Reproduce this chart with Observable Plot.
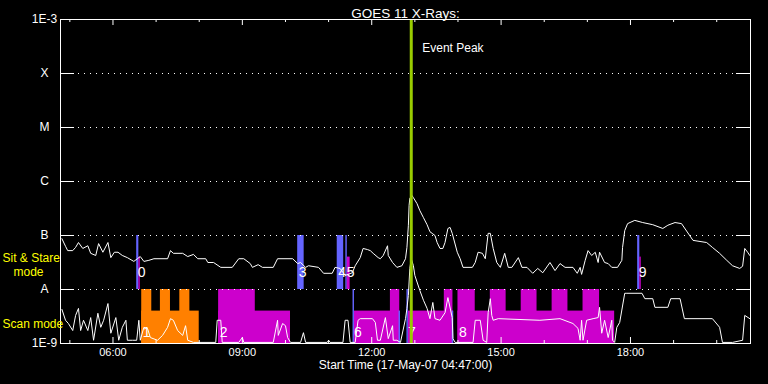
<!DOCTYPE html>
<html>
<head>
<meta charset="utf-8">
<script src="https://cdn.jsdelivr.net/npm/d3@7"></script>
<script src="https://cdn.jsdelivr.net/npm/@observablehq/plot@0.6"></script>
<style>
  html, body { margin: 0; padding: 0; background: #000; }
</style>
</head>
<body>
<div id="chart"></div>
<script>
// ---- Data (times UT on 17-May-2007, values = log10 flux W/m^2) ----
const day = "2007-05-17";
const startTime = "04:47";
const endTime = "20:47";
const peakTime = "12:55";

const longChannel = [
  ["04:49",-7.06],["04:54",-7.20],["04:57",-7.28],["05:04",-7.28],["05:08",-7.22],["05:12",-7.13],
  ["05:18",-7.24],["05:25",-7.19],["05:29",-7.33],["05:36",-7.37],["05:40",-7.15],["05:46",-7.31],
  ["05:53",-7.13],["05:57",-7.41],["06:02",-7.31],["06:07",-7.31],["06:13",-7.37],["06:20",-7.41],
  ["06:29",-7.48],["06:34",-7.43],["06:38",-7.39],["06:43",-7.48],["06:50",-7.46],["06:57",-7.43],
  ["07:16",-7.43],["07:20",-7.28],["07:24",-7.33],["07:37",-7.33],["07:44",-7.39],["07:52",-7.35],
  ["07:58",-7.43],["08:09",-7.43],["08:12",-7.50],["08:20",-7.50],["08:30",-7.59],["08:46",-7.59],
  ["08:55",-7.43],["09:02",-7.43],["09:11",-7.52],["09:14",-7.59],["09:22",-7.54],["09:28",-7.59],
  ["09:43",-7.59],["09:49",-7.43],["10:10",-7.43],["10:17",-7.52],["10:21",-7.50],["10:28",-7.59],
  ["10:32",-7.56],["10:46",-7.59],["10:53",-7.70],["11:05",-7.70],["11:09",-7.59],["11:16",-7.61],
  ["11:23",-7.74],["11:33",-7.69],["11:37",-7.56],["11:44",-7.41],["11:48",-7.24],["11:54",-7.26],
  ["11:58",-7.28],["12:02",-7.33],["12:09",-7.41],["12:12",-7.43],["12:16",-7.37],["12:22",-7.19],
  ["12:23",-7.37],["12:29",-7.50],["12:35",-7.59],["12:42",-7.56],["12:47",-7.43],["12:49",-7.22],
  ["12:51",-6.81],["12:52",-6.44],["12:53",-6.31],["12:56",-6.26],["12:58",-6.30],["13:03",-6.41],
  ["13:07",-6.54],["13:12",-6.67],["13:17",-6.80],["13:21",-6.93],["13:24",-6.96],["13:28",-7.00],
  ["13:31",-7.13],["13:35",-7.24],["13:39",-7.24],["13:42",-7.13],["13:46",-6.87],["13:49",-6.85],
  ["13:52",-6.96],["13:59",-7.31],["14:03",-7.43],["14:07",-7.59],["14:20",-7.59],["14:24",-7.50],
  ["14:28",-7.31],["14:34",-7.33],["14:38",-7.43],["14:42",-6.96],["14:45",-6.96],["14:49",-7.24],
  ["14:54",-7.50],["14:59",-7.59],["15:05",-7.33],["15:10",-7.59],["15:15",-7.59],["15:24",-7.41],
  ["15:29",-7.59],["15:36",-7.59],["15:44",-7.70],["15:51",-7.61],["15:58",-7.69],["16:08",-7.50],
  ["16:15",-7.65],["16:22",-7.52],["16:29",-7.59],["16:40",-7.59],["16:46",-7.70],["16:50",-7.59],
  ["16:52",-7.72],["16:57",-7.46],["17:01",-7.28],["17:06",-7.37],["17:11",-7.31],["17:15",-7.50],
  ["17:17",-7.31],["17:24",-7.50],["17:29",-7.52],["17:34",-7.59],["17:42",-7.59],["17:48",-7.46],
  ["17:49",-7.22],["17:52",-6.91],["17:56",-6.78],["18:06",-6.72],["18:17",-6.76],["18:31",-6.80],
  ["18:45",-6.87],["18:52",-6.81],["19:02",-6.76],["19:11",-6.78],["19:27",-7.09],["19:46",-7.13],
  ["19:54",-7.22],["20:04",-7.33],["20:14",-7.46],["20:22",-7.56],["20:32",-7.61],["20:36",-7.57],
  ["20:39",-7.24],["20:43",-7.31],["20:46",-7.37]
];

const shortChannel = [
  ["04:49",-8.37],["04:54",-8.57],["04:58",-8.63],["05:04",-8.76],["05:08",-8.48],["05:12",-8.35],
  ["05:15",-8.76],["05:19",-8.57],["05:25",-8.76],["05:29",-8.52],["05:33",-8.94],["05:39",-8.44],
  ["05:43",-8.70],["05:47",-8.57],["05:53",-8.26],["05:57",-8.81],["06:04",-8.52],["06:08",-8.94],
  ["06:13",-8.70],["06:18",-8.57],["06:20",-8.94],["06:27",-8.94],["06:33",-8.94],["06:36",-8.57],
  ["06:38",-8.94],["06:43",-8.70],["06:48",-8.72],["06:52",-8.89],["07:02",-8.94],["07:09",-8.85],
  ["07:16",-8.70],["07:20",-8.54],["07:24",-8.57],["07:30",-8.76],["07:37",-8.85],["07:41",-8.67],
  ["07:44",-8.94],["07:52",-8.98],["08:23",-8.98],["08:25",-8.57],["08:30",-8.57],["08:32",-8.98],
  ["08:55",-8.98],["09:00",-8.89],["09:02",-8.98],["09:43",-8.98],["09:49",-8.57],["09:50",-8.85],
  ["09:56",-8.63],["10:00",-8.67],["10:03",-8.89],["10:07",-8.98],["10:21",-8.98],["10:25",-8.80],
  ["10:28",-8.98],["10:58",-8.98],["11:00",-8.94],["11:02",-8.98],["11:20",-8.98],["11:23",-8.57],
  ["11:27",-8.57],["11:30",-8.98],["11:37",-8.98],["11:41",-8.57],["11:44",-8.54],["12:01",-8.54],
  ["12:05",-8.61],["12:08",-8.94],["12:12",-8.94],["12:19",-8.52],["12:23",-8.91],["12:29",-8.67],
  ["12:30",-8.94],["12:35",-8.94],["12:40",-8.98],["12:47",-8.54],["12:49",-8.35],["12:51",-8.11],
  ["12:53",-7.61],["12:55",-7.43],["12:58",-7.56],["13:00",-7.74],["13:07",-8.02],["13:12",-8.20],
  ["13:17",-8.35],["13:21",-8.54],["13:25",-8.24],["13:28",-8.54],["13:35",-8.57],["13:42",-8.43],
  ["13:46",-8.15],["13:52",-8.52],["13:53",-8.91],["13:56",-8.98],["14:21",-8.98],["14:24",-8.57],
  ["14:31",-8.57],["14:35",-8.94],["14:40",-8.98],["14:42",-8.43],["14:45",-8.17],["14:47",-8.48],
  ["14:49",-8.57],["14:56",-8.54],["15:54",-8.57],["16:22",-8.54],["16:40",-8.63],["16:47",-8.72],
  ["16:50",-8.94],["16:52",-8.57],["16:54",-8.94],["16:59",-8.57],["17:08",-8.54],["17:15",-8.52],
  ["17:17",-8.33],["17:20",-8.81],["17:24",-8.57],["17:29",-8.89],["17:34",-8.57],["17:35",-8.94],
  ["17:38",-8.98],["17:41",-8.70],["17:45",-8.61],["17:52",-8.07],["17:55",-8.07],["18:16",-8.07],
  ["18:20",-8.17],["18:31",-8.17],["18:34",-8.33],["18:52",-8.33],["18:56",-8.17],["19:09",-8.17],
  ["19:15",-8.54],["19:54",-8.54],["20:04",-8.70],["20:08",-8.98],["20:22",-8.98],["20:36",-8.94],
  ["20:39",-8.48],["20:46",-8.54]
];

// Observation mode bars [start, end]
const sitStareBlue = [["06:33","06:36"],["10:17","10:26"],["11:12","11:21"],["11:24","11:26"],["18:10","18:13"]];
const sitStareMagenta = [["06:36","06:38"],["11:26","11:30"],["18:13","18:15"]];
const scanOrangeLow = [["06:40","08:00"]];
const scanOrangeHigh = [["06:40","06:54"],["07:06","07:20"],["07:33","07:47"]];
const scanMagentaLow = [["08:27","10:07"],["11:36","12:39"],["12:51","13:54"],["14:00","17:38"]];
const scanMagentaHigh = [["08:27","09:18"],["12:26","12:39"],["13:41","13:53"],["14:00","14:24"],
  ["14:45","15:07"],["15:28","15:50"],["16:11","16:33"],["16:54","17:17"]];
const scanBlueHigh = [["11:34","11:36"],["12:49","12:51"]];
const scanBlueLow = [["12:38","12:40"],["13:52","13:54"]];

// Band levels (log10 flux)
const sitBand = [-8, -7, -7.4];   // bottom, full top, partial top
const scanBand = [-9, -8, -8.4];

// Event number labels [number, start]
const sitLabels = [["0","06:33"],["3","10:17"],["4","11:12"],["5","11:24"],["9","18:10"]];
const scanLabels = [["1","06:40"],["2","08:27"],["6","11:34"],["7","12:49"],["8","14:00"]];

// Axes
const yTickExp = [-9, -8, -7, -6, -5, -4, -3];
const yTickText = ["1E-9", "A", "B", "C", "M", "X", "1E-3"];
const gridExp = [-8, -7, -6, -5, -4];
const hourTicks = ["05:00","06:00","07:00","08:00","09:00","10:00","11:00","12:00","13:00","14:00","15:00","16:00","17:00","18:00","19:00","20:00"];
const majorTicks = ["06:00","09:00","12:00","15:00","18:00"];

const titleText = "GOES 11 X-Rays:";
const xTitle = "Start Time (17-May-07 04:47:00)";
const peakText = "Event Peak";

// ---- Helpers ----
const T = s => new Date(`${day}T${s}:00Z`);
const F = e => Math.pow(10, e);
const series = arr => arr.map(([t, e]) => ({t: T(t), v: F(e)}));
const rects = (arr, lo, hi) => arr.map(([a, b]) => ({x1: T(a), x2: T(b), y1: F(lo), y2: F(hi)}));

const W = 768, H = 384, mL = 60, mR = 18, mT = 19, mB = 41;
const innerW = W - mL - mR, innerH = H - mT - mB;
const minorTicks = hourTicks.filter(h => !majorTicks.includes(h));

const BLUE = "#6464ff", MAGENTA = "#cc00cc", ORANGE = "#ff8000", GREEN = "#99cc00", YELLOW = "#ffff00";
const FONT = "Liberation Sans";

const rectOpts = fill => ({x1: "x1", x2: "x2", y1: "y1", y2: "y2", fill});

const chart = Plot.plot({
  width: W, height: H,
  marginLeft: mL, marginRight: mR, marginTop: mT, marginBottom: mB,
  style: {background: "#000", color: "#fff", fontFamily: FONT, overflow: "visible"},
  x: {type: "utc", domain: [T(startTime), T(endTime)], axis: null},
  y: {type: "log", domain: [1e-9, 1e-3], axis: null},
  marks: [
    // mode bars
    Plot.rect(rects(sitStareBlue, sitBand[0], sitBand[1]), rectOpts(BLUE)),
    Plot.rect(rects(sitStareMagenta, sitBand[0], sitBand[2]), rectOpts(MAGENTA)),
    Plot.rect(rects(scanOrangeLow, scanBand[0], scanBand[2]), rectOpts(ORANGE)),
    Plot.rect(rects(scanOrangeHigh, scanBand[0], scanBand[1]), rectOpts(ORANGE)),
    Plot.rect(rects(scanMagentaLow, scanBand[0], scanBand[2]), rectOpts(MAGENTA)),
    Plot.rect(rects(scanMagentaHigh, scanBand[0], scanBand[1]), rectOpts(MAGENTA)),
    Plot.rect(rects(scanBlueHigh, scanBand[0], scanBand[1]), rectOpts(BLUE)),
    Plot.rect(rects(scanBlueLow, scanBand[0], scanBand[2]), rectOpts(BLUE)),
    // dotted grid
    Plot.ruleY(gridExp.map(F), {stroke: "#fff", strokeDasharray: "1,5"}),
    // y ticks (inward, both sides)
    Plot.ruleY(gridExp.map(F), {stroke: "#fff", insetRight: innerW - 14}),
    Plot.ruleY(gridExp.map(F), {stroke: "#fff", insetLeft: innerW - 14}),
    // x ticks (inward, top and bottom)
    Plot.ruleX(majorTicks.map(T), {stroke: "#fff", insetBottom: innerH - 6}),
    Plot.ruleX(minorTicks.map(T), {stroke: "#fff", insetBottom: innerH - 3}),
    Plot.ruleX(majorTicks.map(T), {stroke: "#fff", insetTop: innerH - 6}),
    Plot.ruleX(minorTicks.map(T), {stroke: "#fff", insetTop: innerH - 3}),
    // flux curves
    Plot.line(series(shortChannel), {x: "t", y: "v", stroke: "#fff", strokeWidth: 1}),
    Plot.line(series(longChannel), {x: "t", y: "v", stroke: "#fff", strokeWidth: 1}),
    // event number labels
    Plot.text(sitLabels, {x: d => T(d[1]), y: () => F(sitBand[0]), text: d => d[0], textAnchor: "start",
      dx: 1, dy: -17, fill: "#fff", fontSize: 14, fontFamily: FONT}),
    Plot.text(scanLabels, {x: d => T(d[1]), y: () => F(scanBand[0]), text: d => d[0], textAnchor: "start",
      dx: 1, dy: -11, fill: "#fff", fontSize: 14, fontFamily: FONT}),
    // event peak line
    Plot.ruleX([T(peakTime)], {stroke: GREEN, strokeWidth: 3}),
    Plot.text([peakText], {x: () => T(peakTime), frameAnchor: "top", dx: 11, dy: 24, textAnchor: "start",
      fill: "#fff", fontSize: 12, fontFamily: FONT}),
    // frame
    Plot.frame({stroke: "#fff"}),
    // y labels
    Plot.text(yTickExp, {y: d => F(d), text: (d, i) => yTickText[i], frameAnchor: "left", dx: -16,
      textAnchor: "middle", fill: "#fff", fontSize: 12, fontFamily: FONT}),
    // x labels
    Plot.text(majorTicks, {x: d => T(d), text: d => d, frameAnchor: "bottom", dy: 12,
      fill: "#fff", fontSize: 11, fontFamily: FONT}),
    Plot.text([xTitle], {frameAnchor: "bottom", dy: 25, fill: "#fff", fontSize: 12, fontFamily: FONT}),
    Plot.text([titleText], {frameAnchor: "top", dy: -11, fill: "#fff", fontSize: 13.5, fontFamily: FONT}),
    // mode labels
    Plot.text(["Sit & Stare"], {frameAnchor: "left", y: () => F(sitBand[1]), dx: -58, dy: 23, textAnchor: "start",
      fill: YELLOW, fontSize: 12, fontFamily: FONT}),
    Plot.text(["mode"], {frameAnchor: "left", y: () => F(sitBand[1]), dx: -47, dy: 37, textAnchor: "start",
      fill: YELLOW, fontSize: 12, fontFamily: FONT}),
    Plot.text(["Scan mode"], {frameAnchor: "left", y: () => F(scanBand[0]), dx: -58, dy: -19, textAnchor: "start",
      fill: YELLOW, fontSize: 12, fontFamily: FONT})
  ]
});

document.getElementById("chart").appendChild(chart);
</script>
</body>
</html>
